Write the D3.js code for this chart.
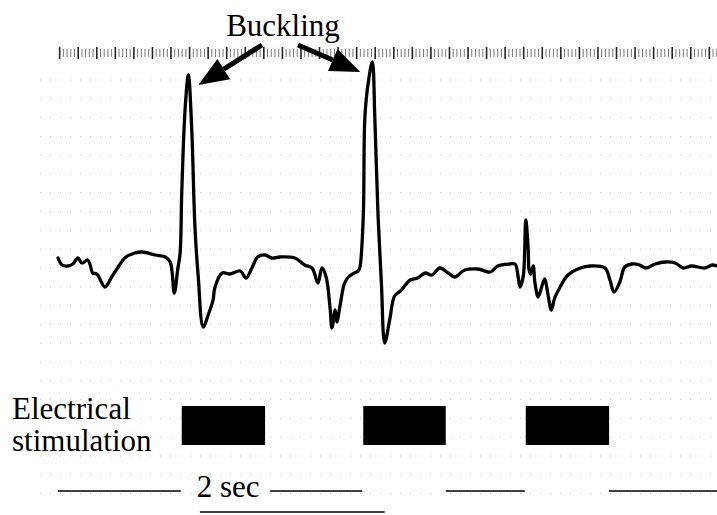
<!DOCTYPE html>
<html>
<head>
<meta charset="utf-8">
<script src="https://cdn.jsdelivr.net/npm/d3@7"></script>
<style>
  body { margin: 0; background: #fff; }
  svg { display: block; }
</style>
</head>
<body>
<div id="chart"></div>
<script>
// time (s) and trace value (arbitrary units)
const time = [0.00, 0.05, 0.12, 0.18, 0.24, 0.29, 0.36, 0.39, 0.42, 0.47,
  0.57, 0.65, 0.73, 0.81, 0.93, 1.02, 1.18, 1.30, 1.36, 1.41,
  1.45, 1.48, 1.50, 1.54, 1.58, 1.62, 1.66, 1.70, 1.76, 1.82,
  1.88, 1.90, 1.99, 2.08, 2.21, 2.28, 2.35, 2.42, 2.51, 2.59,
  2.69, 2.87, 2.99, 3.08, 3.15, 3.20, 3.25, 3.30, 3.32, 3.36,
  3.38, 3.42, 3.47, 3.52, 3.59, 3.64, 3.66, 3.70, 3.72, 3.76,
  3.81, 3.84, 3.88, 3.92, 3.96, 4.02, 4.08, 4.15, 4.27, 4.36,
  4.45, 4.53, 4.63, 4.73, 4.81, 4.93, 5.09, 5.24, 5.33, 5.48,
  5.54, 5.58, 5.60, 5.64, 5.67, 5.70, 5.71, 5.73, 5.76, 5.78,
  5.82, 5.87, 5.90, 5.94, 5.98, 6.02, 6.08, 6.18, 6.30, 6.45,
  6.63, 6.69, 6.74, 6.81, 6.87, 6.96, 7.05, 7.12, 7.24, 7.36,
  7.48, 7.58, 7.68, 7.84, 7.93, 7.99];
const trace = [0.7, 0.0, -0.1, 0.1, 0.7, 0.2, 0.5, 0.0, -0.8, -0.9,
  -2.2, -1.2, -0.2, 0.7, 1.2, 1.3, 1.0, 0.8, 0.3, -2.8,
  -0.5, 1.2, 7.2, 15.5, 19.0, 13.8, 3.8, -1.2, -6.2, -5.0,
  -3.5, -2.3, -0.8, -0.9, -0.6, -1.3, -0.3, 0.8, 1.0, 0.7,
  0.8, 0.7, 0.0, -0.3, -1.8, -0.3, -1.2, -4.5, -6.3, -4.5,
  -5.7, -4.0, -1.9, -1.2, -0.8, -0.6, -0.2, 4.8, 14.8, 18.2,
  20.3, 14.8, 4.8, -1.8, -7.8, -5.5, -3.1, -2.6, -1.5, -1.3,
  -0.8, -1.0, -0.3, -0.8, -1.2, -0.5, -0.4, -0.7, -0.1, 0.1,
  0.1, -1.3, -2.2, -1.1, 4.5, 1.5, -0.5, -0.9, -0.1, -1.7,
  -3.2, -2.0, -1.4, -3.0, -4.5, -3.3, -2.3, -1.0, -0.4, -0.1,
  -0.3, -1.5, -2.7, -1.7, -0.2, 0.1, 0.0, -0.3, 0.1, 0.3,
  0.2, -0.3, -0.1, -0.3, 0.0, -0.1];

// electrical stimulation periods (s)
const stimStart = [1.50, 3.70, 5.67];
const stimEnd = [2.51, 4.70, 6.68];
// buckling peaks (s)
const bucklingTimes = [1.58, 3.81];
// scale bar (s)
const scaleBar = [1.72, 3.96];
const scaleLabel = "2 sec";

const width = 717, height = 515,
    serif = "'Liberation Serif', 'Times New Roman', serif";

const svg = d3.select("#chart").append("svg")
    .attr("width", width)
    .attr("height", height);

const x = d3.scaleLinear().domain([0, 8]).range([58, 718]);
const y = d3.scaleLinear().domain([-8, 20]).range([345, 65]);

// faint dotted chart-paper grid
const gridRows = d3.range(80, 505, 18.8);
svg.append("g")
    .selectAll("line")
    .data(gridRows)
    .enter().append("line")
    .attr("x1", 40).attr("x2", width)
    .attr("y1", d => d).attr("y2", d => d)
    .attr("stroke", "#c4c4c4")
    .attr("stroke-width", 1)
    .attr("stroke-dasharray", "1,9");

// ruler across the top of the paper
const ruler = svg.append("g");
const minorTicks = d3.range(0.02, 8, 0.045);
ruler.selectAll("line")
    .data(minorTicks)
    .enter().append("line")
    .attr("x1", d => x(d)).attr("x2", d => x(d))
    .attr("y1", (d, i) => i % 5 === 0 ? 47 : 49)
    .attr("y2", (d, i) => i % 5 === 0 ? 59 : 57)
    .attr("stroke", (d, i) => i % 5 === 0 ? "#222" : "#555")
    .attr("stroke-width", (d, i) => i % 5 === 0 ? 1.6 : 0.8);

// recorded trace
const line = d3.line()
    .x((d, i) => x(time[i]))
    .y(d => y(d))
    .curve(d3.curveCatmullRom.alpha(0.5));

svg.append("path")
    .datum(trace)
    .attr("d", line)
    .attr("fill", "none")
    .attr("stroke", "#000")
    .attr("stroke-width", 3.3)
    .attr("stroke-linejoin", "round")
    .attr("stroke-linecap", "round");

// "Buckling" label and arrows
svg.append("text")
    .attr("x", 283).attr("y", 36)
    .attr("text-anchor", "middle")
    .style("font-family", serif)
    .style("font-size", "31px")
    .text("Buckling");

const arrowTails = [[262, 45], [298, 45]];
bucklingTimes.forEach((t, i) => {
    const peakIdx = time.indexOf(t);
    const tx = x(t) + (i === 0 ? 10 : -12), ty = y(trace[peakIdx]) + 10;
    const [sx, sy] = arrowTails[i];
    const ang = Math.atan2(ty - sy, tx - sx);
    const len = 30, hw = 12;
    const bx = tx - len * Math.cos(ang), by = ty - len * Math.sin(ang);
    svg.append("line")
        .attr("x1", sx).attr("y1", sy)
        .attr("x2", bx).attr("y2", by)
        .attr("stroke", "#000")
        .attr("stroke-width", 5);
    svg.append("polygon")
        .attr("points", [
            [tx, ty],
            [bx + hw * Math.sin(ang), by - hw * Math.cos(ang)],
            [bx - hw * Math.sin(ang), by + hw * Math.cos(ang)]
        ].map(p => p.join(",")).join(" "))
        .attr("fill", "#000");
});

// stimulation blocks
svg.append("g")
    .selectAll("rect")
    .data(stimStart)
    .enter().append("rect")
    .attr("x", d => x(d))
    .attr("width", (d, i) => x(stimEnd[i]) - x(d))
    .attr("y", 406)
    .attr("height", 39)
    .attr("fill", "#000");

svg.append("text")
    .attr("x", 12).attr("y", 419)
    .style("font-family", serif)
    .style("font-size", "31px")
    .text("Electrical");
svg.append("text")
    .attr("x", 12).attr("y", 451)
    .style("font-family", serif)
    .style("font-size", "31px")
    .text("stimulation");

// stimulus marker line, broken during each stimulation
const gaps = [[0, stimStart[0]]];
stimStart.forEach((s, i) => gaps.push([stimEnd[i], i + 1 < stimStart.length ? stimStart[i + 1] : 8]));
svg.append("g")
    .selectAll("line")
    .data(gaps)
    .enter().append("line")
    .attr("x1", (d, i) => x(d[0]) + (i === 1 ? 5 : 0))
    .attr("x2", d => x(d[1]) - 1)
    .attr("y1", 491).attr("y2", 491)
    .attr("stroke", "#000")
    .attr("stroke-width", 1.3);

svg.append("text")
    .attr("x", x(stimStart[0]) + 15).attr("y", 497)
    .style("font-family", serif)
    .style("font-size", "31px")
    .text(scaleLabel);

// 2 sec scale bar
svg.append("line")
    .attr("x1", x(scaleBar[0])).attr("x2", x(scaleBar[1]))
    .attr("y1", 512).attr("y2", 512)
    .attr("stroke", "#000")
    .attr("stroke-width", 1.3);
</script>
</body>
</html>
